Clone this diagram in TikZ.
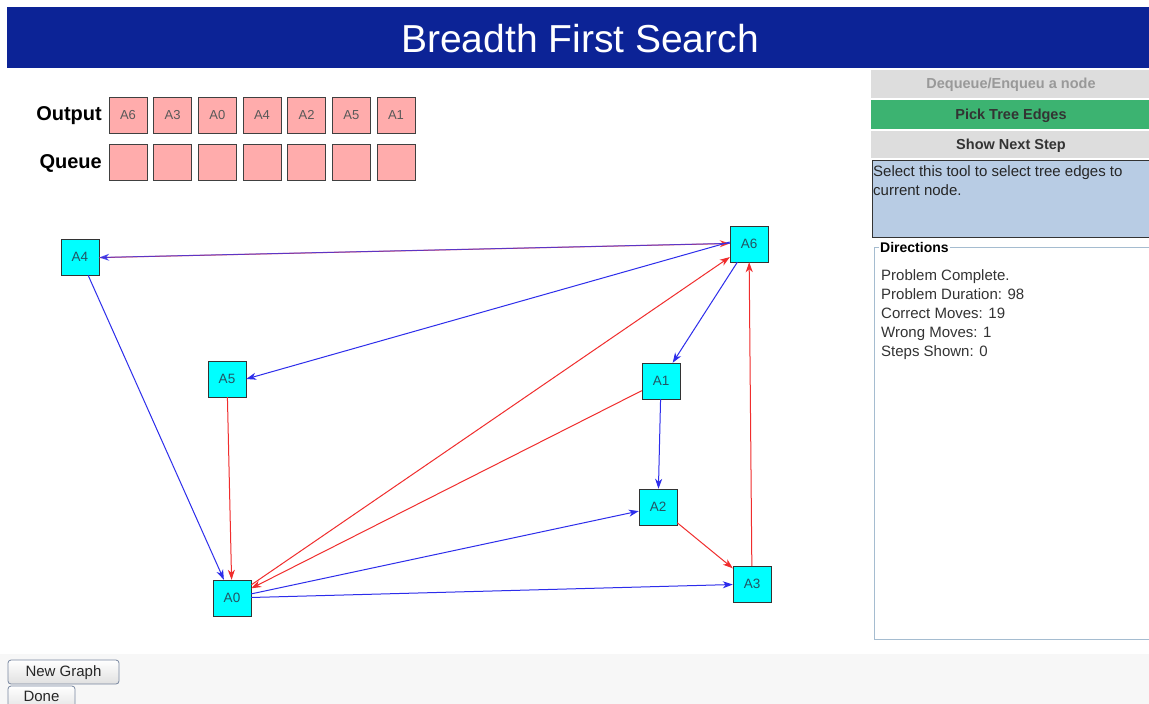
\documentclass[tikz,border=0pt]{standalone}
\usepackage{fontspec}
\setmainfont{Liberation Sans}
\usetikzlibrary{arrows.meta}
\definecolor{titleblue}{RGB}{12,35,150}
\definecolor{pinkbox}{RGB}{255,172,172}
\definecolor{cyannode}{RGB}{0,255,255}
\definecolor{edgeblue}{RGB}{45,45,235}
\definecolor{edgered}{RGB}{240,45,45}
\definecolor{btngray}{RGB}{221,221,221}
\definecolor{btngreen}{RGB}{60,179,113}
\definecolor{infoblue}{RGB}{184,204,228}
\definecolor{dirborder}{RGB}{165,188,208}
\definecolor{bottomgray}{RGB}{247,247,247}
\definecolor{nodetext}{RGB}{35,85,100}
\definecolor{btnborder}{RGB}{120,135,160}
\begin{document}
\begin{tikzpicture}[x=1pt,y=-1pt,
  gnode/.style={draw=black!80,fill=cyannode,minimum width=38pt,minimum height=36pt,inner sep=0pt,font=\fontsize{13.5}{15}\selectfont,text=nodetext},
  qbox/.style={draw=black!75,fill=pinkbox,minimum width=38pt,minimum height=36pt,inner sep=0pt,font=\fontsize{13}{15}\selectfont,text=black!65},
  tip/.style={-{Stealth[length=10pt,width=7pt,inset=3pt]}},
  bedge/.style={tip,draw=edgeblue,line width=1pt},
  redge/.style={tip,draw=edgered,line width=1pt},
  lbl/.style={font=\fontsize{20}{22}\selectfont\bfseries,anchor=east,inner sep=0pt},
  btntext/.style={font=\fontsize{14.5}{17}\selectfont\bfseries,inner sep=0pt},
  dirtext/.style={font=\fontsize{15}{17}\selectfont,text=black!80,anchor=base west,inner sep=0pt},
  pushbtn/.style={draw=btnborder,rounded corners=3pt,top color=white,bottom color=black!12,line width=0.8pt}
]
\useasboundingbox (0,0) rectangle (1149,704);
\fill[white] (0,0) rectangle (1149,704);
% title bar
\fill[titleblue] (7,7) rectangle (1149,68);
\node[text=white,font=\fontsize{39}{44}\selectfont,inner sep=0pt] (title) at (580,39) {Breadth First Search};
% bottom area
\fill[bottomgray] (0,654) rectangle (1149,704);
% output / queue
\node[lbl] (outlbl) at (102,116) {Output};
\node[lbl] (queuelbl) at (102,163) {Queue};
\foreach \i/\t in {0/A6,1/A3,2/A0,3/A4,4/A2,5/A5,6/A1}{
  \node[qbox] (o\i) at ({128+\i*44.67},115) {\t};
  \node[qbox] (q\i) at ({128+\i*44.67},162) {};
}
% right panel buttons
\fill[btngray] (871,70) rectangle (1149,98);
\node[btntext,text=black!40] (deq) at (1011,85) {Dequeue/Enqueu a node};
\fill[btngreen] (871,100) rectangle (1149,129);
\node[btntext,text=black!80] (pick) at (1011,116) {Pick Tree Edges};
\fill[btngray] (871,131) rectangle (1149,158);
\node[btntext,text=black!80] (shownext) at (1011,146) {Show Next Step};
\draw[fill=infoblue,draw=black!80,line width=0.8pt] (872,160) rectangle (1149,237);
\node[dirtext,text=black!85] (info1) at (873,176) {Select this tool to select tree edges to};
\node[dirtext,text=black!85] (info2) at (873,195) {current node.};
% directions
\draw[dirborder,line width=0.8pt] (874,247) rectangle (1149,639);
\node[fill=white,inner sep=1pt,anchor=west,font=\fontsize{14}{17}\selectfont\bfseries] (dirtitle) at (879,247) {Directions};
\node[dirtext] (d1) at (881,280) {Problem Complete.};
\node[dirtext] (d2) at (881,299) {Problem Duration: 98};
\node[dirtext] (d3) at (881,318) {Correct Moves: 19};
\node[dirtext] (d4) at (881,337) {Wrong Moves: 1};
\node[dirtext] (d5) at (881,356) {Steps Shown: 0};
% bottom buttons
\draw[pushbtn] (8,660) rectangle (119,684);
\node[font=\fontsize{15}{18}\selectfont,text=black!85] (newgraph) at (63.5,673) {New Graph};
\draw[pushbtn] (8,686) rectangle (75,712);
\node[font=\fontsize{15}{18}\selectfont,text=black!85,inner sep=0pt] (done) at (41.5,696) {Done};
% graph nodes
\node[gnode] (A4) at (80,257) {A4};
\node[gnode] (A6) at (749,244) {A6};
\node[gnode] (A5) at (227,379) {A5};
\node[gnode] (A1) at (661,381) {A1};
\node[gnode] (A2) at (658,507) {A2};
\node[gnode] (A3) at (752,584) {A3};
\node[gnode] (A0) at (232,598) {A0};
% edges
\draw[redge,opacity=0.85] ([yshift=-0.6pt]A4.east) -- ([yshift=0.5pt]A6.west);
\draw[bedge,opacity=0.75] ([yshift=0.6pt]A6.west) -- ([yshift=-0.5pt]A4.east);
\draw[bedge] ([yshift=2pt]A6.west) -- (A5.east);
\draw[bedge] (A6) -- (A1);
\draw[bedge] (A1) -- (A2);
\draw[redge] (A2) -- (A3);
\draw[redge] (A3) -- (A6);
\draw[redge] (A0) -- (A6);
\draw[redge] (A1) -- (A0);
\draw[bedge] (A4) -- (A0);
\draw[redge] (A5) -- (A0);
\draw[bedge] (A0) -- (A2);
\draw[bedge] (A0) -- (A3);
\end{tikzpicture}
\end{document}
